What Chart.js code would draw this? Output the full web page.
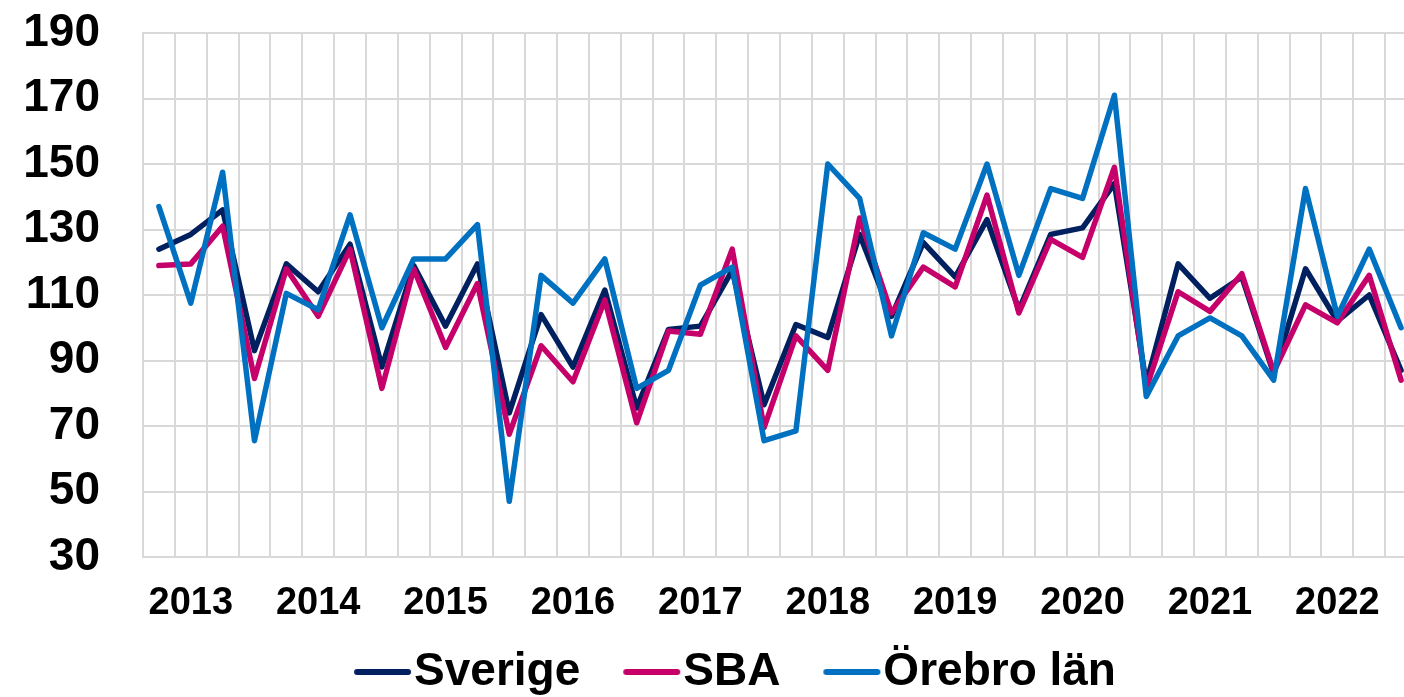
<!DOCTYPE html>
<html>
<head>
<meta charset="utf-8">
<script src="https://cdn.jsdelivr.net/npm/chart.js@4.4.1/dist/chart.umd.min.js"></script>
<style>
  html, body { margin:0; padding:0; background:#fff; overflow:hidden; }
  #wrap { position:absolute; left:0; top:0; width:1417px; height:697px; }
</style>
</head>
<body>
<div id="wrap"><canvas id="chart"></canvas></div>
<script>
(function(){
'use strict';

var AAR = ['2013','2014','2015','2016','2017','2018','2019','2020','2021','2022'];
var KVARTAL = [];
AAR.forEach(function(a){ for (var q=1; q<=4; q++) KVARTAL.push(a+' K'+q); });

var SVERIGE = [124,128.5,136,93,119.5,111,125.5,88,119,100.5,
  119.5,74,104,88,111.5,75.5,99.5,100.5,117.5,76.5,
  101,97,128.5,103.5,126,115.5,133,105.5,128.5,130.5,
  144,83,119.5,109,115.5,86,118,102,110,87];
var SBA = [119,119.5,131,84.5,118,103.5,124,81.5,118,94,
  113.5,67.5,94.5,83.5,108.5,71,99,98,124,69.5,
  97.5,87,133.5,104.5,118.5,112.5,140.5,104.5,127,121.5,
  149,81.5,111,105,116.5,86.5,107,101.5,116,84];
var OREBRO = [137,107.5,147.5,65.5,110.5,105.5,134.5,100,121,121,
  131.5,47,116,107.5,121,81.5,87,113,118.5,65.5,
  68.5,150,139.5,97.5,129,124,150,116,142.5,139.5,
  171,79,97.5,103,97.5,84,142.5,103.5,124,100];

var FARBEN = {sverige:'#002060', sba:'#c5006a', orebro:'#0070c0'};
var FONT = "'Liberation Sans', Arial, sans-serif";

// Legendensymbol: kurze Linie, rechts im Symbolfeld
function linienSymbol(farbe) {
  var c = document.createElement('canvas');
  c.width = 120; c.height = 10;
  var x = c.getContext('2d');
  x.strokeStyle = farbe;
  x.lineWidth = 6;
  x.lineCap = 'round';
  x.beginPath(); x.moveTo(63,5); x.lineTo(114,5); x.stroke();
  return c;
}

function serie(label, daten, farbe, ord) {
  return {
    label: label,
    data: daten,
    borderColor: farbe,
    backgroundColor: farbe,
    borderWidth: 5.5,
    borderJoinStyle: 'round',
    borderCapStyle: 'round',
    pointRadius: 0,
    pointHoverRadius: 0,
    pointStyle: linienSymbol(farbe),
    tension: 0,
    fill: false,
    order: ord
  };
}

var legendeVerschieben = {
  id: 'legendeVerschieben',
  afterLayout: function(chart){
    var lg = chart.legend;
    if (!lg) return;
    lg.left += 8; lg.right += 8;
    lg.top += 8; lg.bottom += 8;
  }
};

new Chart(document.getElementById('chart'), {
  type: 'line',
  data: {
    labels: KVARTAL,
    datasets: [
      serie('Sverige', SVERIGE, FARBEN.sverige, 3),
      serie('SBA', SBA, FARBEN.sba, 2),
      serie('Örebro län', OREBRO, FARBEN.orebro, 1)
    ]
  },
  options: {
    responsive: true,
    maintainAspectRatio: false,
    animation: false,
    layout: {padding: {top:0, left:0, right:0, bottom:0}},
    scales: {
      x: {
        offset: true,
        grid: {offset:true, color:'#d9d9d9', lineWidth:2, drawTicks:false},
        border: {color:'#d9d9d9', width:2},
        ticks: {
          autoSkip: false, maxRotation: 0, padding: 24, color: '#000',
          font: {family: FONT, size: 38, weight: 'bold'},
          callback: function(v, i){ return i % 4 === 1 ? KVARTAL[i].slice(0,4) : ''; }
        },
        afterFit: function(ax){ ax.height = 78; ax.paddingLeft = 0; ax.paddingRight = 0; }
      },
      y: {
        min: 30, max: 190,
        grid: {color:'#d9d9d9', lineWidth:2, drawTicks:false},
        border: {color:'#d9d9d9', width:2},
        ticks: {stepSize: 20, padding: 43, color: '#000', font: {family: FONT, size: 46, weight: 'bold'}},
        afterFit: function(ax){ ax.width = 143; ax.paddingTop = 33; ax.paddingBottom = 0; }
      }
    },
    plugins: {
      legend: {
        position: 'bottom',
        labels: {
          usePointStyle: true,
          pointStyleWidth: 74,
          padding: 6,
          color: '#000',
          font: {family: FONT, size: 46, weight: 'bold'},
          sort: function(a, b){ return a.datasetIndex - b.datasetIndex; }
        }
      },
      tooltip: {enabled: false}
    }
  },
  plugins: [legendeVerschieben]
});

})();
</script>
</body>
</html>
